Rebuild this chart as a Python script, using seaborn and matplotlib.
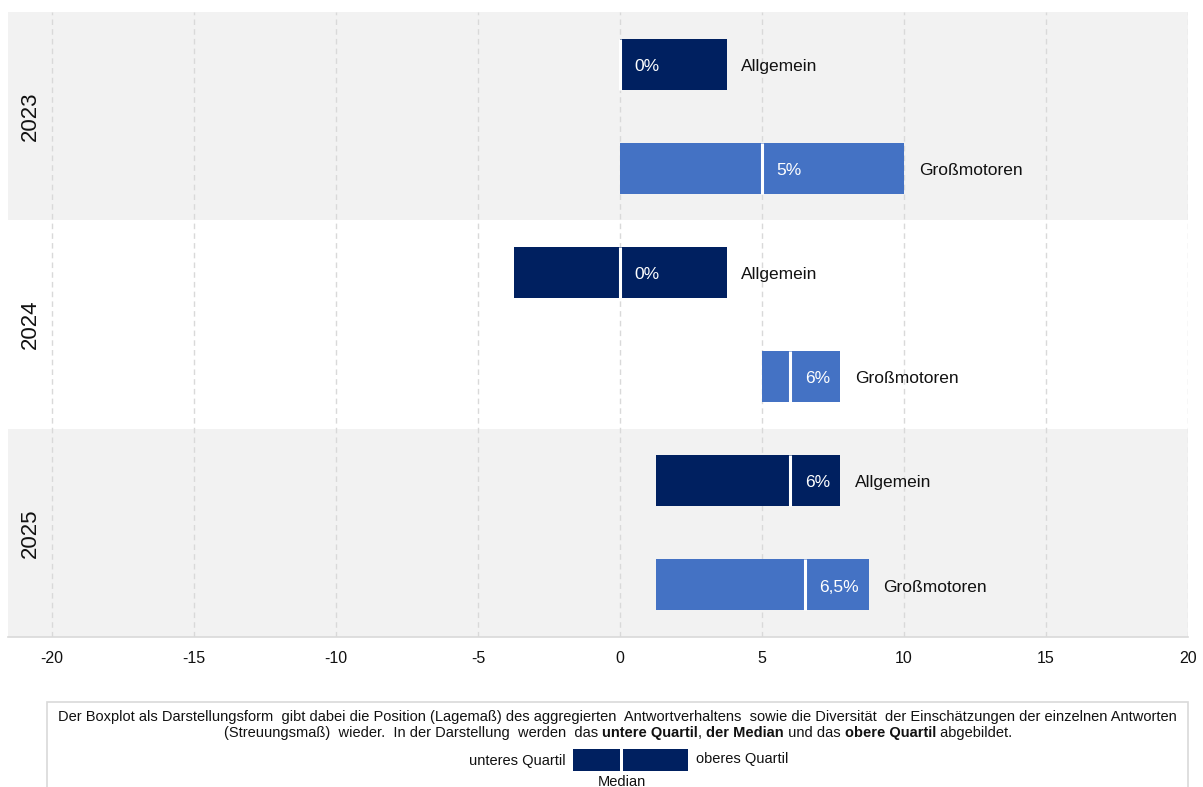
import matplotlib
matplotlib.use("Agg")
import matplotlib.pyplot as plt
from matplotlib.patches import Rectangle
from matplotlib.transforms import blended_transform_factory
import numpy as np
import pandas as pd
import seaborn as sns

# ---- data -------------------------------------------------------------
years = ["2023", "2024", "2025"]
series = ["Allgemein", "Großmotoren"]
# one row per (year, series), in drawing order from top to bottom
row_years = ["2023", "2023", "2024", "2024", "2025", "2025"]
row_series = ["Allgemein", "Großmotoren", "Allgemein", "Großmotoren", "Allgemein", "Großmotoren"]
lower_quartile = [0.0, 0.0, -3.75, 5.0, 1.25, 1.25]
median = [0.0, 5.0, 0.0, 6.0, 6.0, 6.5]
upper_quartile = [3.75, 10.0, 3.75, 7.75, 7.75, 8.75]
x_ticks = [-20, -15, -10, -5, 0, 5, 10, 15, 20]

df = pd.DataFrame({
    "year": row_years,
    "series": row_series,
    "q1": lower_quartile,
    "median": median,
    "q3": upper_quartile,
})
df["pos"] = np.arange(len(df))

# ---- style ------------------------------------------------------------
sns.set_theme(style="white")
plt.rcParams["font.family"] = ["Liberation Sans", "DejaVu Sans"]

palette = {"Allgemein": "#002060", "Großmotoren": "#4472C4"}
band_color = "#F2F2F2"
grid_color = "#D9D9D9"

W, H = 1203, 787
fig = plt.figure(figsize=(W / 100, H / 100), dpi=100)
ax = fig.add_axes([8 / W, 1 - 637 / H, (1188 - 8) / W, (637 - 12) / H])

xmin, xmax = -21.55, 20
ax.set_xlim(xmin, xmax)
ax.set_ylim(len(df) - 0.5, -0.5)

# alternating year bands
for i, yr in enumerate(years):
    if i % 2 == 0:
        ax.axhspan(2 * i - 0.5, 2 * i + 1.5, color=band_color, zorder=0, lw=0)

# dashed vertical grid
ax.set_xticks(x_ticks)
ax.set_xticklabels([str(t) for t in x_ticks], fontsize=11.5, color="#111111")
ax.xaxis.grid(True, linestyle=(0, (4, 3)), color=grid_color, lw=1, zorder=1)
ax.yaxis.grid(False)
ax.set_yticks([])
ax.set_axisbelow(True)

for side in ["left", "right", "top"]:
    ax.spines[side].set_visible(False)
ax.spines["bottom"].set_color(grid_color)
ax.spines["bottom"].set_linewidth(1.2)
ax.tick_params(axis="x", length=5, color=grid_color, pad=5)

# box bars: lower quartile -> upper quartile, white line at median
bar_h = 0.49
for _, r in df.iterrows():
    col = palette[r["series"]]
    ax.barh(r["pos"], r["q3"] - r["q1"], left=r["q1"], height=bar_h,
            color=col, lw=0, zorder=3)
    ax.vlines(r["median"], r["pos"] - bar_h / 2, r["pos"] + bar_h / 2,
              color="white", lw=2.2, zorder=4)
    label = f"{r['median']:g}%".replace(".", ",")
    ax.text(r["median"] + 0.52, r["pos"] + 0.02, label, color="white",
            fontsize=12.5, va="center", ha="left", zorder=5)
    ax.text(r["q3"] + 0.52, r["pos"] + 0.02, r["series"], color="#111111",
            fontsize=12.5, va="center", ha="left", zorder=5)

# year labels inside the bands
trans = blended_transform_factory(ax.transAxes, ax.transData)
for i, yr in enumerate(years):
    ax.text(0.0186, 2 * i + 0.5, yr, transform=trans, rotation=90,
            fontsize=16, va="center", ha="center", color="#111111")

ax.set_xlabel("")
ax.set_ylabel("")

# ---- explanatory box below the chart ------------------------------------
def px(x, y):
    return x / W, 1 - y / H

fig.patches.append(Rectangle(px(47, 800), (1188 - 47) / W, (800 - 702) / H,
                             transform=fig.transFigure, fill=False,
                             edgecolor=grid_color, lw=1.2))

note_size = 10.5
fig.text(*px(617.5, 717),
         "Der Boxplot als Darstellungsform  gibt dabei die Position (Lagemaß) des aggregierten  "
         "Antwortverhaltens  sowie die Diversität  der Einschätzungen der einzelnen Antworten",
         fontsize=note_size, ha="center", va="center", color="#111111")

pieces = [
    ("(Streuungsmaß)  wieder.  In der Darstellung  werden  das ", "normal"),
    ("untere Quartil", "bold"),
    (", ", "normal"),
    ("der Median", "bold"),
    (" und das ", "normal"),
    ("obere Quartil", "bold"),
    (" abgebildet.", "normal"),
]
renderer = fig.canvas.get_renderer()
texts = []
for s, w in pieces:
    t = fig.text(0, 1 - 733 / H, s, fontsize=note_size, fontweight=w,
                 ha="left", va="center", color="#111111")
    texts.append(t)
widths = [t.get_window_extent(renderer).width for t in texts]
x0 = 618 - sum(widths) / 2
for t, wd in zip(texts, widths):
    t.set_x(x0 / W)
    x0 += wd

# small key: two boxes with median gap
fig.patches.append(Rectangle(px(573, 771), (620 - 573) / W, (771 - 749) / H,
                             transform=fig.transFigure, color=palette["Allgemein"], lw=0))
fig.patches.append(Rectangle(px(623, 771), (688 - 623) / W, (771 - 749) / H,
                             transform=fig.transFigure, color=palette["Allgemein"], lw=0))
fig.text(*px(566, 761), "unteres Quartil", fontsize=note_size, ha="right", va="center", color="#111111")
fig.text(*px(696, 759), "oberes Quartil", fontsize=note_size, ha="left", va="center", color="#111111")
fig.text(*px(622, 782), "Median", fontsize=note_size, ha="center", va="center", color="#111111")

fig.savefig("out.png", dpi=100)
